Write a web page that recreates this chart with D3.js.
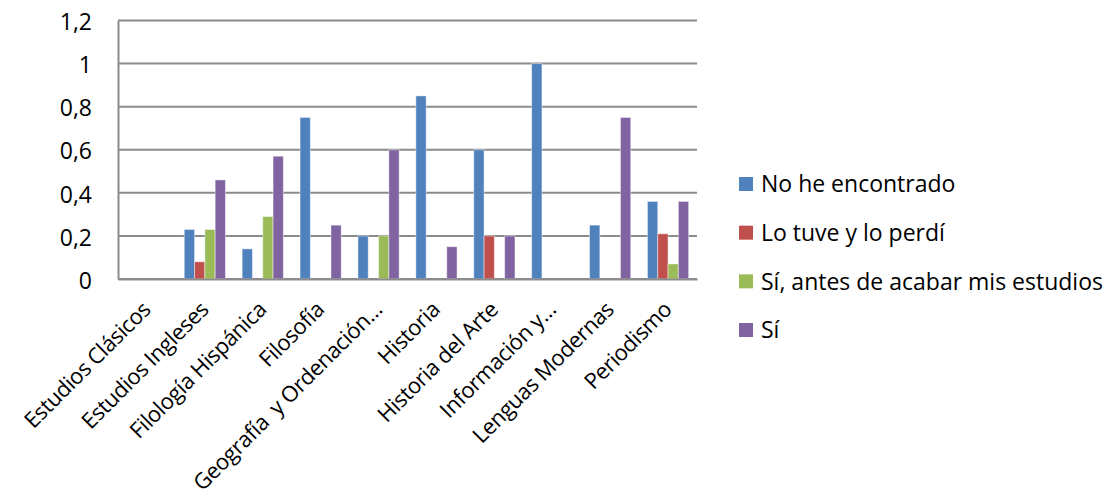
<!DOCTYPE html>
<html>
<head>
<meta charset="utf-8">
<script src="https://cdn.jsdelivr.net/npm/d3@7"></script>
<style>
  html, body { margin: 0; padding: 0; background: #fff; }
  svg { display: block; }
  text { font-family: "Open Sans", "Lato", sans-serif; fill: #000; white-space: pre; }
</style>
</head>
<body>
<svg id="chart" width="1107" height="497"></svg>
<script>
const categories = ["Estudios Clásicos", "Estudios Ingleses", "Filología Hispánica", "Filosofía",
  "Geografía  y Ordenación…", "Historia", "Historia del Arte", "Información y…", "Lenguas Modernas", "Periodismo"];
const seriesNames = ["No he encontrado", "Lo tuve y lo perdí", "Sí, antes de acabar mis estudios", "Sí"];
const noHeEncontrado = [0, 0.23, 0.14, 0.75, 0.20, 0.85, 0.60, 1.00, 0.25, 0.36];
const loTuveYLoPerdi = [0, 0.08, 0, 0, 0, 0, 0.20, 0, 0, 0.21];
const siAntes       = [0, 0.23, 0.29, 0, 0.20, 0, 0, 0, 0, 0.07];
const si            = [0, 0.46, 0.57, 0.25, 0.60, 0.15, 0.20, 0, 0.75, 0.36];
const yTicks = [0, 0.2, 0.4, 0.6, 0.8, 1.0, 1.2];
const colors = ["#4F81BD", "#C0504D", "#9BBB59", "#8064A2"];

const seriesValues = [noHeEncontrado, loTuveYLoPerdi, siAntes, si];

const svg = d3.select("#chart");
const plot = { left: 118, right: 697, top: 20.5, bottom: 279 };
const fontSize = 23;
const xFontSize = 22;

const x = d3.scaleBand().domain(categories).range([plot.left, plot.right]).paddingInner(0).paddingOuter(0);
const xs = d3.scaleBand().domain(seriesNames).range([0, x.bandwidth()]).paddingInner(0).paddingOuter(0.81);
const y = d3.scaleLinear().domain([0, 1.2]).range([plot.bottom, plot.top]);
const fmt = v => d3.format(".1~f")(v).replace(".", ",");

// Gridlines
svg.append("g").selectAll("line").data(yTicks).join("line")
  .attr("x1", plot.left).attr("x2", plot.right)
  .attr("y1", d => y(d)).attr("y2", d => y(d))
  .attr("stroke", "#8b8b8b").attr("stroke-width", 2);

// Y axis
const yAxis = svg.append("g").attr("transform", `translate(${plot.left},0)`)
  .call(d3.axisLeft(y).tickValues(yTicks).tickFormat(fmt).tickSize(0).tickPadding(26));
yAxis.select(".domain").attr("stroke", "#8b8b8b").attr("stroke-width", 2);
yAxis.selectAll("text").style("font-family", "'Open Sans', sans-serif").style("font-size", fontSize + "px").attr("dy", "0.4em");

// Bars
const data = [];
categories.forEach((c, i) => seriesNames.forEach((s, j) => data.push({ c, s, j, v: seriesValues[j][i] })));
svg.append("g").selectAll("rect").data(data.filter(d => d.v > 0)).join("rect")
  .attr("x", d => x(d.c) + xs(d.s))
  .attr("width", xs.bandwidth())
  .attr("y", d => y(d.v))
  .attr("height", d => y(0) - y(d.v))
  .attr("fill", d => colors[d.j])
  .attr("stroke", "rgba(255,255,255,0.45)")
  .attr("stroke-width", 1);

// X axis
const xAxis = svg.append("g").attr("transform", `translate(0,${plot.bottom})`)
  .call(d3.axisBottom(x).tickSize(0).tickFormat(d => d));
xAxis.select(".domain").attr("stroke", "#8b8b8b").attr("stroke-width", 2);
xAxis.selectAll("text")
  .style("font-family", "'Open Sans', sans-serif")
  .style("font-size", xFontSize + "px")
  .style("letter-spacing", "-0.4px")
  .style("white-space", "pre")
  .attr("text-anchor", "end")
  .attr("dy", null).attr("y", 0)
  .attr("transform", "translate(5,32) rotate(-45)");

// Legend
const legend = svg.append("g");
const rowY = d3.scalePoint().domain(seriesNames).range([184, 330]);
const items = legend.selectAll("g").data(seriesNames).join("g")
  .attr("transform", d => `translate(739,${rowY(d)})`);
items.append("rect").attr("x", 0).attr("y", -7).attr("width", 14).attr("height", 14)
  .attr("fill", (d, i) => colors[i]);
items.append("text").attr("x", 22).attr("dy", "0.36em").style("font-size", fontSize + "px").text(d => d);
</script>
</body>
</html>
